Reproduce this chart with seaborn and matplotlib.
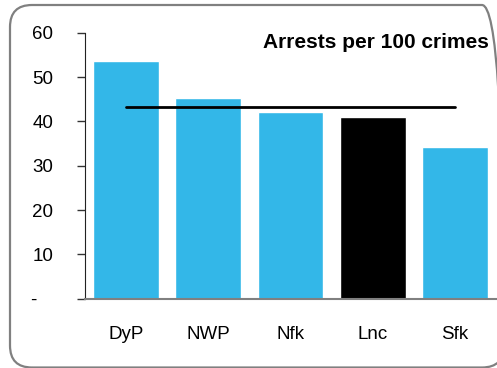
import matplotlib
matplotlib.use("Agg")
import matplotlib.pyplot as plt
import seaborn as sns
import pandas as pd
from matplotlib.patches import FancyBboxPatch
from matplotlib.transforms import IdentityTransform

forces = ["DyP", "NWP", "Nfk", "Lnc", "Sfk"]
arrests = [53.6, 45.3, 42.1, 41.0, 34.2]
bar_colors = ["#33B7E8", "#33B7E8", "#33B7E8", "#000000", "#33B7E8"]
average = 43.2
yticks = [0, 10, 20, 30, 40, 50, 60]
ytick_labels = ["-   ", "10", "20", "30", "40", "50", "60"]

df = pd.DataFrame({"Force": forces, "Arrests": arrests})

sns.set_style("white")
plt.rcParams["font.family"] = ["Liberation Sans", "DejaVu Sans"]
plt.rcParams["text.color"] = "black"
plt.rcParams["xtick.color"] = "black"
plt.rcParams["ytick.color"] = "black"

fig = plt.figure(figsize=(4.97, 3.68), dpi=100)
ax = fig.add_axes([85 / 497, 1 - 298.7 / 368, 411 / 497, 266 / 368])

sns.barplot(data=df, x="Force", y="Arrests", hue="Force", palette=bar_colors,
            width=0.8, saturation=1, legend=False, ax=ax)
ax.plot([0, 4], [average, average], color="black", lw=2)

ax.set_xlim(-0.5, 4.5)
ax.set_ylim(0, 60)
ax.set_yticks(yticks)
ax.set_yticklabels(ytick_labels)
ax.set_xlabel("")
ax.set_ylabel("")
ax.tick_params(axis="y", length=6, width=1, color="#333333", labelcolor="black",
               labelsize=13.5, pad=17, direction="out", left=True)
ax.tick_params(axis="x", length=0, labelsize=13.5, labelcolor="black", pad=20)
for s in ["top", "right"]:
    ax.spines[s].set_visible(False)
ax.spines["left"].set_color("#222222")
ax.spines["bottom"].set_color("#808080")
ax.spines["bottom"].set_linewidth(1.5)

fig.text(489 / 497, 1 - 43 / 368, "Arrests per 100 crimes", ha="right", va="center",
         fontsize=15, fontweight="bold", color="black")

# rounded frame, in pixels (runs past the right edge of the image)
box = FancyBboxPatch((10, 0.5), 494, 362.5, boxstyle="round,pad=0,rounding_size=22",
                     transform=IdentityTransform(), facecolor="none",
                     edgecolor="#808080", lw=1.6)
fig.patches.append(box)

fig.savefig("out.png", dpi=100)
